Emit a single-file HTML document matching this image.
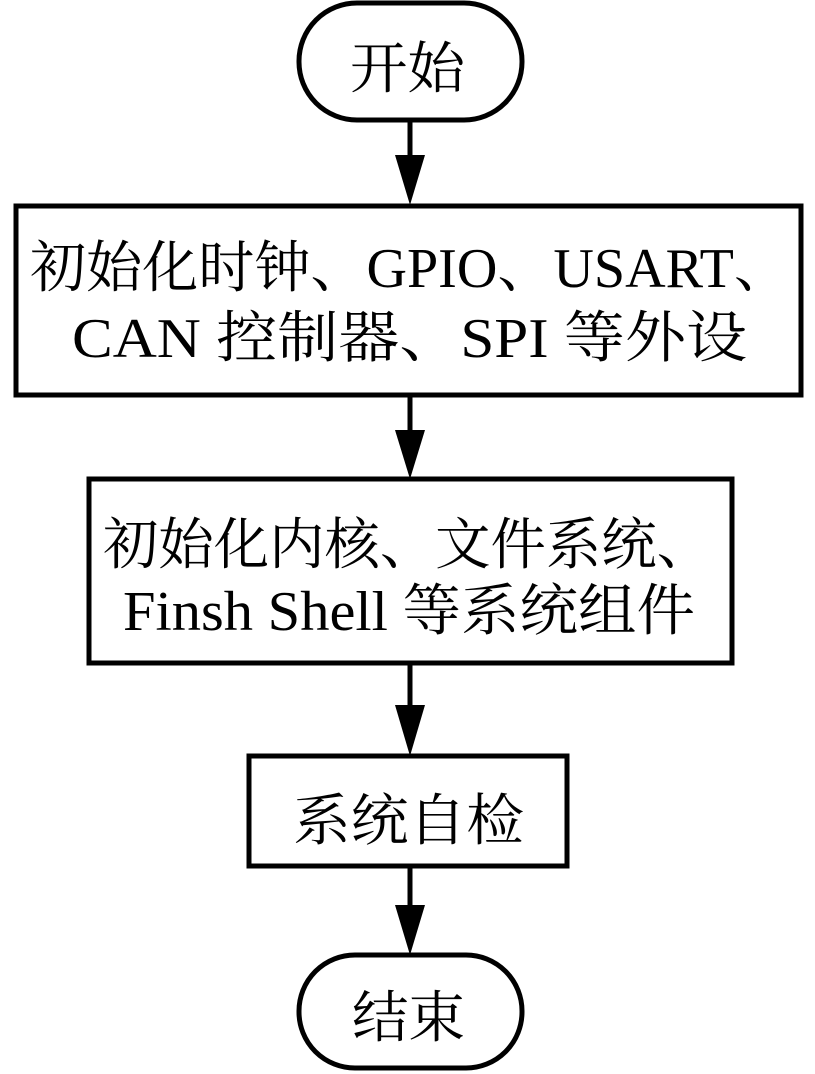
<!DOCTYPE html>
<html><head><meta charset="utf-8"><style>
html,body{margin:0;padding:0;background:#fff;}
svg{display:block}
text{font-family:"Liberation Serif","Noto Serif CJK SC",serif;fill:#000;font-size:56px}
</style></head><body>
<svg width="815" height="1074" viewBox="0 0 815 1074" xmlns="http://www.w3.org/2000/svg">
<g fill="none" stroke="#000" stroke-width="5">
<rect x="299" y="3" width="223" height="117" rx="58" ry="58"/>
<rect x="16" y="206" width="785" height="189"/>
<rect x="89" y="479" width="643" height="184"/>
<rect x="249" y="756" width="318" height="110"/>
<rect x="299" y="955" width="223" height="113" rx="56" ry="56"/>
<line x1="410" y1="120" x2="410" y2="165"/>
<line x1="410" y1="395" x2="410" y2="440"/>
<line x1="410" y1="663" x2="410" y2="710"/>
<line x1="410" y1="866" x2="410" y2="910"/>
</g>
<g fill="#000">
<polygon points="395,155 425,155 410,205"/>
<polygon points="395,430 425,430 410,479"/>
<polygon points="395,705 425,705 410,756"/>
<polygon points="395,905 425,905 410,955"/>
</g>
<text x="350" y="88" textLength="115" lengthAdjust="spacingAndGlyphs">开始</text>
<text x="30" y="287" textLength="760" lengthAdjust="spacingAndGlyphs">初始化时钟、GPIO、USART、</text>
<text x="72" y="357" textLength="675" lengthAdjust="spacingAndGlyphs">CAN  控制器、SPI  等外设</text>
<text x="103" y="564" textLength="609" lengthAdjust="spacingAndGlyphs">初始化内核、文件系统、</text>
<text x="123" y="630" textLength="572" lengthAdjust="spacingAndGlyphs">Finsh Shell 等系统组件</text>
<text x="293" y="840" textLength="231" lengthAdjust="spacingAndGlyphs">系统自检</text>
<text x="352" y="1037" textLength="113" lengthAdjust="spacingAndGlyphs">结束</text>
</svg>
</body></html>
